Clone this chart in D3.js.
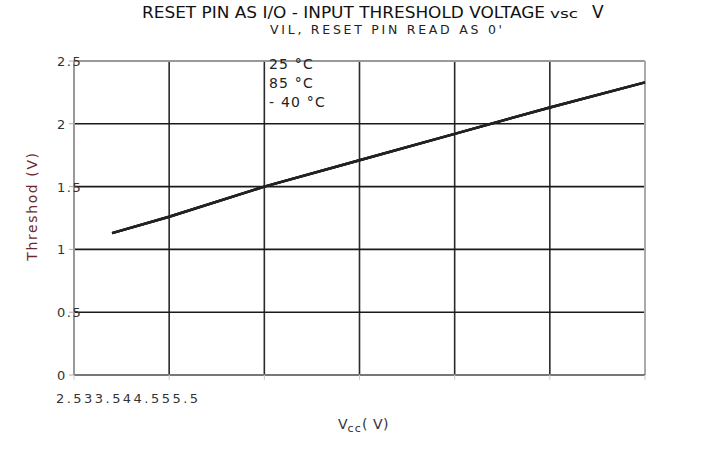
<!DOCTYPE html>
<html>
<head>
<meta charset="utf-8">
<script src="https://cdn.jsdelivr.net/npm/d3@7"></script>
<style>
  html, body { margin: 0; padding: 0; background: #fff; }
  svg { display: block; }
  text { font-family: "DejaVu Sans", Verdana, sans-serif; }
</style>
</head>
<body>
<svg id="chart" width="720" height="449"></svg>
<script>
// ---- data ----
const vcc = [2.7, 3.0, 3.5, 4.0, 4.5, 5.0, 5.5];
const threshold25 = [1.13, 1.26, 1.50, 1.71, 1.92, 2.13, 2.33];
const threshold85 = [1.13, 1.26, 1.50, 1.71, 1.92, 2.13, 2.33];
const thresholdM40 = [1.13, 1.26, 1.50, 1.71, 1.92, 2.13, 2.33];
const xTicks = [2.5, 3, 3.5, 4, 4.5, 5, 5.5];
const yTicks = [0, 0.5, 1, 1.5, 2, 2.5];
const yTickLabels = ["0", "0.5", "1", "1.5", "2", "2.5"];
const legendLabels = ["25 °C", "85 °C", "- 40 °C"];
const series = [threshold25, threshold85, thresholdM40];

const svg = d3.select("#chart");
const x = d3.scaleLinear().domain([2.5, 5.5]).range([74, 645]);
const y = d3.scaleLinear().domain([0, 2.5]).range([375, 61]);

// vertical grid lines (inner)
svg.append("g").selectAll("line")
  .data(xTicks.slice(1, -1)).join("line")
  .attr("x1", d => x(d)).attr("x2", d => x(d))
  .attr("y1", y(2.5)).attr("y2", y(0))
  .attr("stroke", "#2a2a2a").attr("stroke-width", 1.6);

// horizontal grid lines (inner)
svg.append("g").selectAll("line")
  .data(yTicks.slice(1, -1)).join("line")
  .attr("x1", x(2.5)).attr("x2", x(5.5))
  .attr("y1", d => y(d)).attr("y2", d => y(d))
  .attr("stroke", "#1a1a1a").attr("stroke-width", 1.6);

// frame: top, right (grey), left axis, bottom axis
svg.append("line").attr("x1", x(2.5)).attr("x2", x(5.5)).attr("y1", y(2.5)).attr("y2", y(2.5))
  .attr("stroke", "#999").attr("stroke-width", 2);
svg.append("line").attr("x1", x(5.5)).attr("x2", x(5.5)).attr("y1", y(2.5)).attr("y2", y(0))
  .attr("stroke", "#aaa").attr("stroke-width", 2);
svg.append("line").attr("x1", x(2.5)).attr("x2", x(2.5)).attr("y1", y(2.5)).attr("y2", y(0))
  .attr("stroke", "#999").attr("stroke-width", 2);
svg.append("line").attr("x1", x(2.5)).attr("x2", x(5.5)).attr("y1", y(0)).attr("y2", y(0))
  .attr("stroke", "#777").attr("stroke-width", 2);

// ticks
svg.append("g").selectAll("line")
  .data(yTicks).join("line")
  .attr("x1", x(2.5) - 5).attr("x2", x(2.5))
  .attr("y1", d => y(d)).attr("y2", d => y(d))
  .attr("stroke", "#aaa").attr("stroke-width", 1);
svg.append("g").selectAll("line")
  .data(xTicks).join("line")
  .attr("x1", d => x(d)).attr("x2", d => x(d))
  .attr("y1", y(0)).attr("y2", y(0) + 5)
  .attr("stroke", "#ccc").attr("stroke-width", 1);

// y tick labels
svg.append("g").selectAll("text")
  .data(yTicks).join("text")
  .attr("x", 57).attr("y", d => y(d) + 5)
  .attr("font-size", 13).attr("fill", "#333")
  .attr("letter-spacing", 1.5)
  .text((d, i) => yTickLabels[i]);

// x tick labels (crammed at left as in reference)
svg.append("text")
  .attr("x", 56).attr("y", 403)
  .attr("font-size", 13).attr("fill", "#333")
  .attr("textLength", 142).attr("lengthAdjust", "spacing")
  .text(xTicks.map(d => String(d)).join(""));

// lines
const line = d3.line().x((d, i) => x(vcc[i])).y(d => y(d));
svg.append("g").selectAll("path")
  .data(series).join("path")
  .attr("d", d => line(d))
  .attr("fill", "none").attr("stroke", "#222").attr("stroke-width", 2.4);

// legend text
svg.append("g").selectAll("text")
  .data(legendLabels).join("text")
  .attr("x", 269).attr("y", (d, i) => 69 + i * 19)
  .attr("font-size", 14).attr("fill", "#222")
  .attr("letter-spacing", 1.2)
  .text(d => d);

// title
svg.append("text")
  .attr("x", 142).attr("y", 18)
  .attr("font-family", "Liberation Sans, Arial, sans-serif")
  .attr("font-size", 16).attr("fill", "#111")
  .attr("textLength", 403).attr("lengthAdjust", "spacingAndGlyphs")
  .text("RESET PIN AS I/O - INPUT THRESHOLD VOLTAGE");
svg.append("text")
  .attr("x", 550).attr("y", 18)
  .attr("font-family", "Liberation Sans, Arial, sans-serif")
  .attr("font-size", 12).attr("fill", "#111")
  .attr("textLength", 28).attr("lengthAdjust", "spacingAndGlyphs")
  .text("vsc");
svg.append("text")
  .attr("x", 592).attr("y", 18)
  .attr("font-family", "Liberation Sans, Arial, sans-serif")
  .attr("font-size", 17).attr("fill", "#111")
  .text("V");
svg.append("text")
  .attr("x", 270).attr("y", 34)
  .attr("font-size", 12.5).attr("fill", "#222")
  .attr("textLength", 232).attr("lengthAdjust", "spacing")
  .text("VIL, RESET PIN READ AS 0'");

// y axis title
svg.append("text")
  .attr("transform", "translate(37,206) rotate(-90)")
  .attr("text-anchor", "middle")
  .attr("font-size", 14).attr("fill", "#6e2a2a")
  .attr("letter-spacing", 1.6)
  .text("Threshod (V)");

// x axis title
const xt = svg.append("text").attr("x", 338).attr("y", 429)
  .attr("font-size", 14).attr("fill", "#333");
xt.append("tspan").text("V");
xt.append("tspan").attr("font-size", 11).attr("dy", 3).attr("letter-spacing", 1.2).text("cc");
xt.append("tspan").attr("dy", -3).attr("letter-spacing", 0.5).text("( V)");
</script>
</body>
</html>
